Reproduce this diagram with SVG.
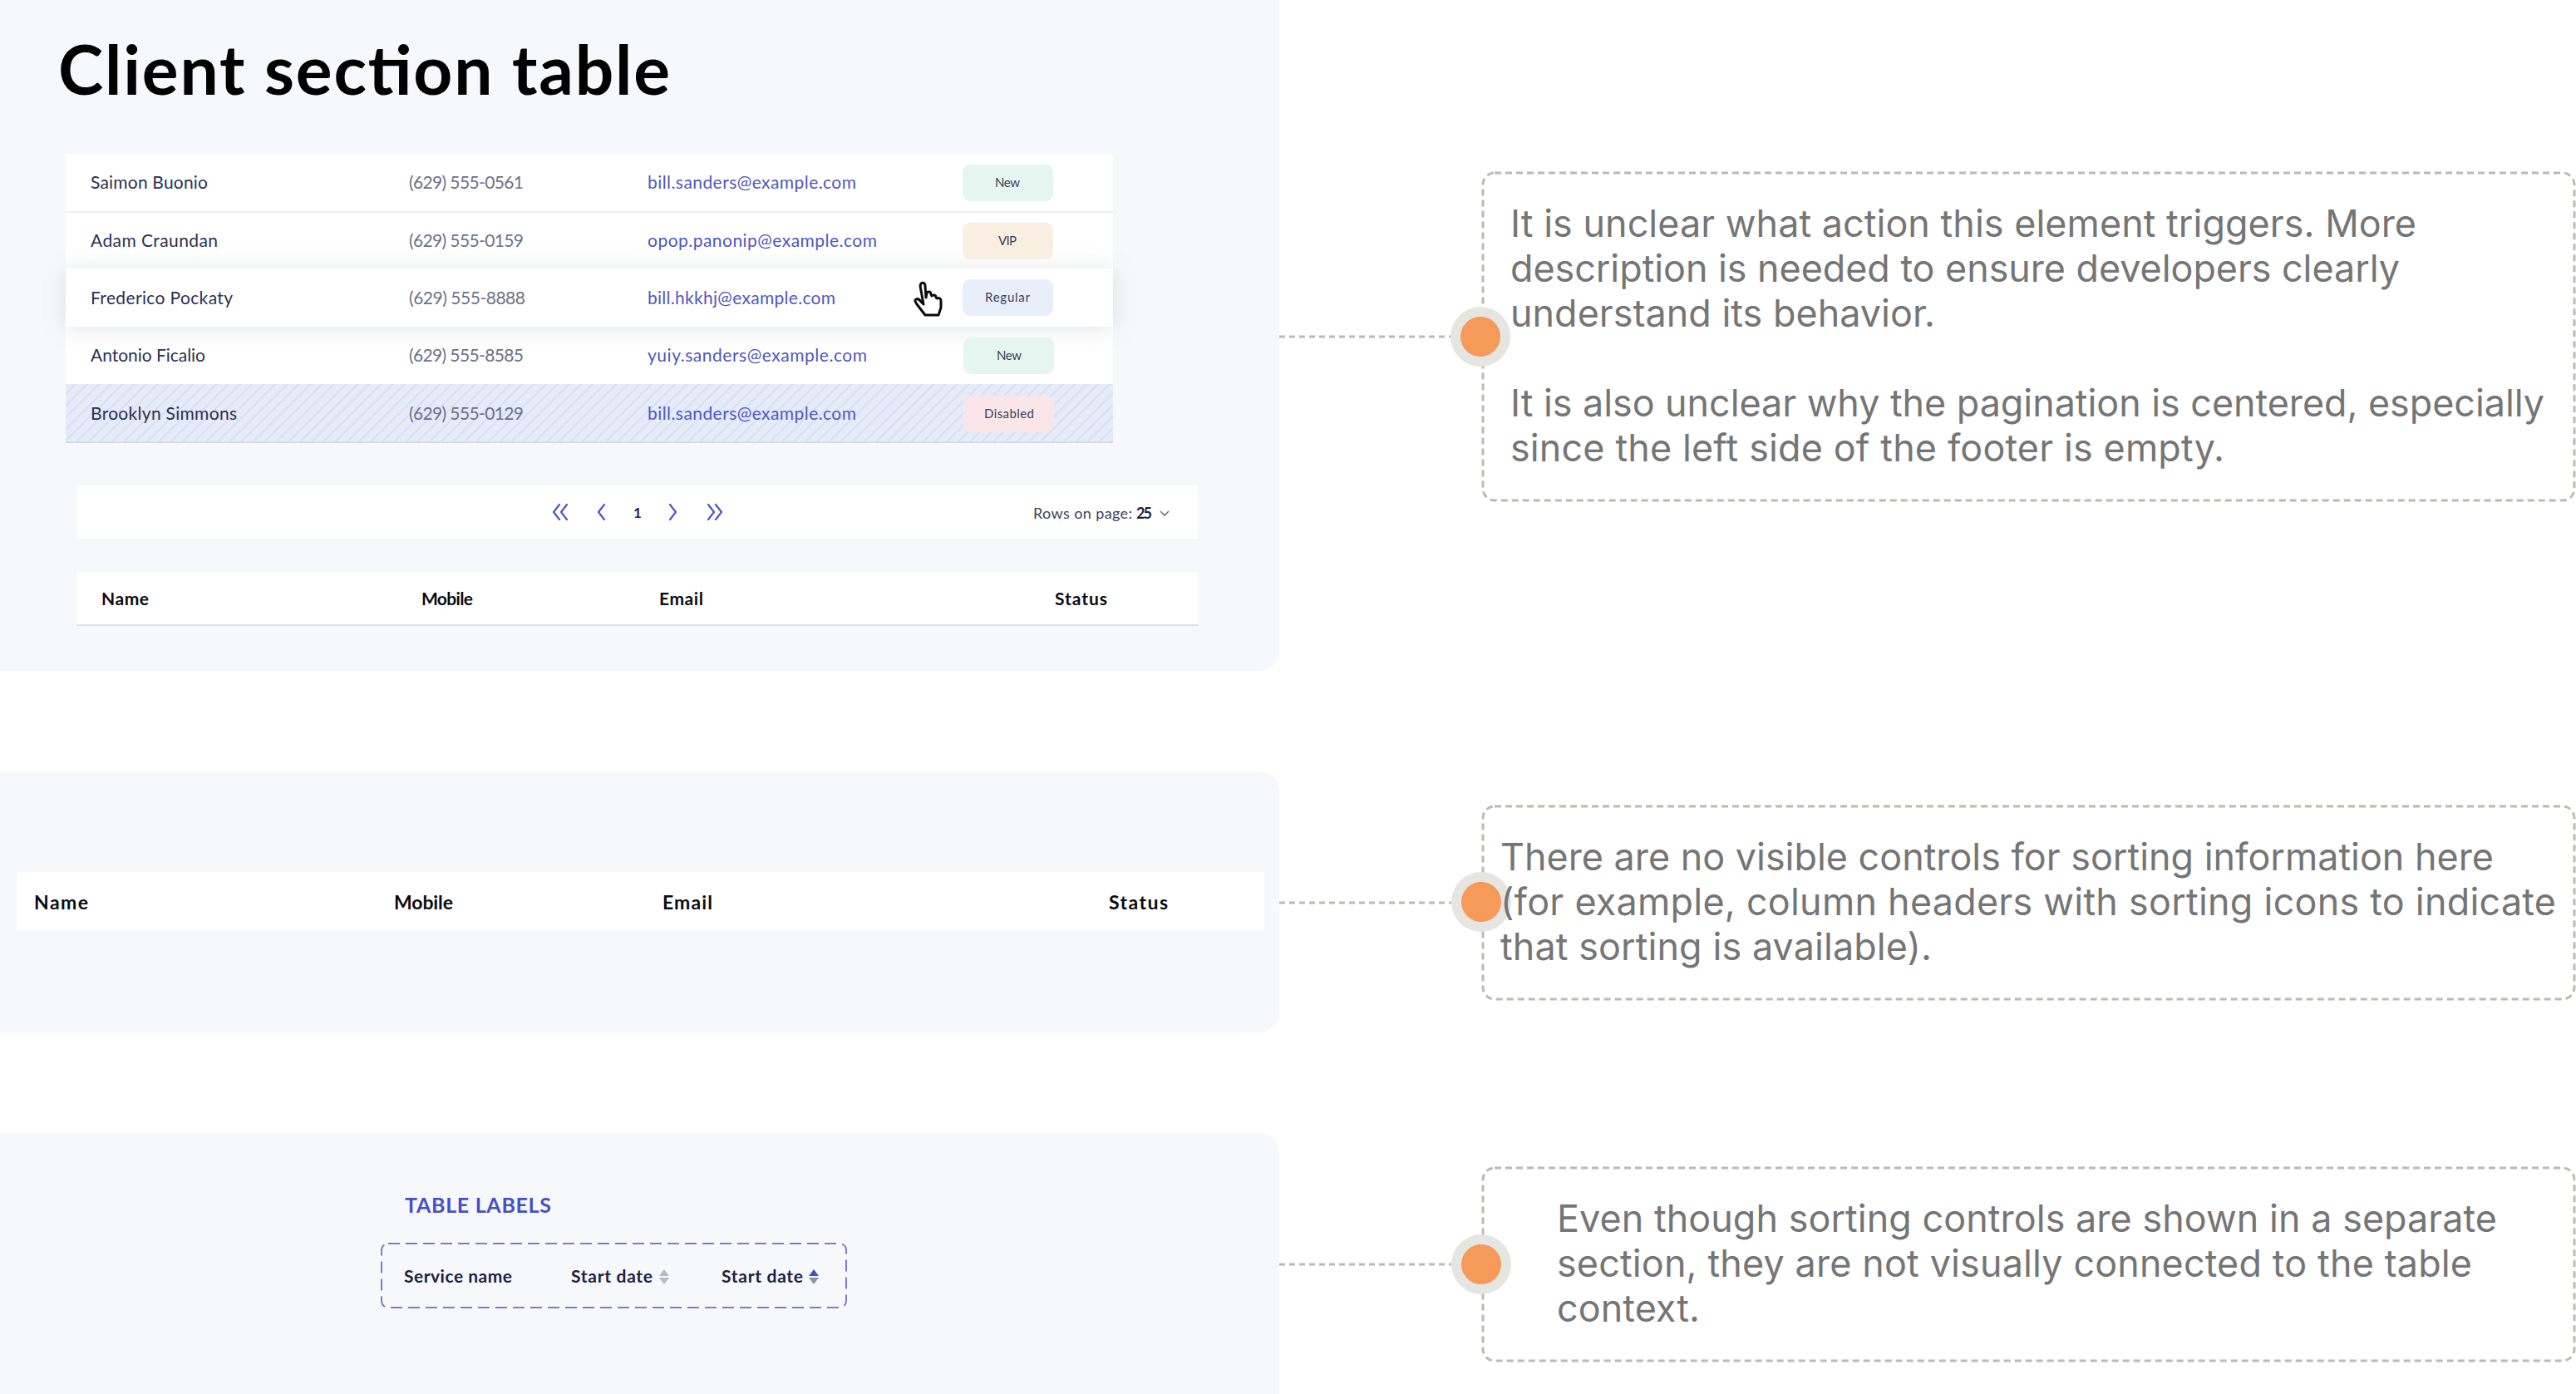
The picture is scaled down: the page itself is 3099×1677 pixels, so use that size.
<svg xmlns="http://www.w3.org/2000/svg" width="3099" height="1677" viewBox="0 0 3099 1677">
<style>
text{font-family:"Lato","Noto Sans",sans-serif}
.panel{fill:#f6f8fc}
.row{fill:#fff}
.sep{stroke:#eef0f4;stroke-width:2}
.name{font-size:21px;fill:#2b3052}
.phone{font-size:21px;fill:#6c7189}
.email{font-size:21px;fill:#4f57c2}
.badge{font-size:15px;fill:#3a3f5a;text-anchor:middle}
.hdr{font-size:21px;font-weight:700;fill:#0b0b12}
.hdr2{font-size:23px;font-weight:700;fill:#0b0b12}
.note{font-family:"Inter","Noto Sans",sans-serif;font-size:44.85px;fill:#757575}
.box{fill:none;stroke:#bdbab3;stroke-width:3;stroke-dasharray:8 5}
.conn{stroke:#bdbab3;stroke-width:3;stroke-dasharray:7 5;fill:none}
.halo{fill:#e5e5e1}
.dot{fill:#f59a58}
.ico{fill:none;stroke:#4f57c2;stroke-width:2.2;stroke-linecap:round;stroke-linejoin:round}
.lbl{font-size:21px;font-weight:700;fill:#1c2140}
</style>
<defs>
<pattern id="stripes" width="10" height="10" patternUnits="userSpaceOnUse" patternTransform="rotate(45)">
<rect width="10" height="10" fill="#e6ebf9"/>
<rect width="2" height="10" fill="#d9dff2"/>
</pattern>
<filter id="shadow" x="-5%" y="-60%" width="110%" height="220%">
<feDropShadow dx="0" dy="2" stdDeviation="14" flood-color="#7d8296" flood-opacity=".22"/>
</filter>
</defs>
<rect width="3099" height="1677" fill="#fff"/>

<g id="panel-client-table">
<rect class="panel" x="-30" y="-30" width="1569" height="837" rx="24"/>
<text x="70" y="114" font-size="82" font-weight="700" fill="#000" textLength="736" lengthAdjust="spacing">Client section table</text>
<rect class="row" x="79" y="185" width="1260" height="278"/>
<line class="sep" x1="79" x2="1339" y1="255" y2="255"/>
<rect class="row" x="79" y="323" width="1260" height="70" filter="url(#shadow)"/>
<rect x="79" y="462" width="1260" height="70" fill="url(#stripes)"/>
<line x1="79" x2="1339" y1="532" y2="532" stroke="#d6dae6" stroke-width="2"/>

<text class="name" x="109" y="227" textLength="141">Saimon Buonio</text>
<text class="name" x="109" y="297" textLength="153">Adam Craundan</text>
<text class="name" x="109" y="366" textLength="171">Frederico Pockaty</text>
<text class="name" x="109" y="435" textLength="138">Antonio Ficalio</text>
<text class="name" x="109" y="505" textLength="176">Brooklyn Simmons</text>

<text class="phone" x="492" y="227" textLength="138">(629) 555-0561</text>
<text class="phone" x="492" y="297" textLength="138">(629) 555-0159</text>
<text class="phone" x="492" y="366" textLength="140">(629) 555-8888</text>
<text class="phone" x="492" y="435" textLength="138">(629) 555-8585</text>
<text class="phone" x="492" y="505" textLength="138">(629) 555-0129</text>

<text class="email" x="779" y="227" textLength="251">bill.sanders@example.com</text>
<text class="email" x="779" y="297" textLength="276">opop.panonip@example.com</text>
<text class="email" x="779" y="366" textLength="226">bill.hkkhj@example.com</text>
<text class="email" x="779" y="435" textLength="264">yuiy.sanders@example.com</text>
<text class="email" x="779" y="505" textLength="251">bill.sanders@example.com</text>

<rect x="1158" y="198" width="109" height="44" rx="9" fill="#e5f6f1"/>
<text class="badge" x="1212" y="225" textLength="30">New</text>
<rect x="1158" y="268" width="109" height="44" rx="9" fill="#f8efe0"/>
<text class="badge" x="1212" y="295" textLength="22">VIP</text>
<rect x="1158" y="336" width="109" height="44" rx="9" fill="#e8effb"/>
<text class="badge" x="1212" y="363" textLength="54">Regular</text>
<rect x="1159" y="406" width="109" height="44" rx="9" fill="#e5f6f1"/>
<text class="badge" x="1214" y="433" textLength="30">New</text>
<rect x="1159" y="476" width="109" height="44" rx="9" fill="#fae6e8"/>
<text class="badge" x="1214" y="503" textLength="60">Disabled</text>

<path d="M1107 342c3-2 5 0 5 3l1 14 1-6c3-2 5-1 5 2l1 2c3-2 5-1 5 2l1 1c3-1 5 0 5 3v8l-3 9h-16l-10-13c-2-3-3-5-1-6 2-1 4 0 6 3l3 3-4-22z" fill="#fff" stroke="#0c0c0c" stroke-width="3" stroke-linejoin="round" transform="translate(1 -1)"/>

<rect class="row" x="92" y="584" width="1349" height="64"/>
<path class="ico" d="M673 607l-7 9 7 9M682 607l-7 9 7 9M727 607l-7 9 7 9M806 607l7 9-7 9M852 607l7 9-7 9M861 607l7 9-7 9"/>
<text x="767" y="623" font-size="17" font-weight="700" fill="#1c2140" text-anchor="middle">1</text>
<text x="1243" y="624" font-size="18" fill="#3a3f5a" textLength="119">Rows on page:</text>
<text x="1367" y="624" font-size="18" font-weight="700" fill="#1c2140" textLength="19">25</text>
<path d="M1396 615l5 5 5-5" fill="none" stroke="#6c7189" stroke-width="1.6"/>

<rect class="row" x="92" y="688" width="1349" height="64"/>
<line x1="92" x2="1441" y1="752" y2="752" stroke="#dfe2ea" stroke-width="2"/>
<text class="hdr" x="122" y="728" textLength="57">Name</text>
<text class="hdr" x="507" y="728" textLength="62">Mobile</text>
<text class="hdr" x="793" y="728" textLength="53">Email</text>
<text class="hdr" x="1269" y="728" textLength="63">Status</text>
</g>

<g id="panel-header">
<rect class="panel" x="-30" y="928" width="1569" height="314" rx="24"/>
<rect class="row" x="21" y="1049" width="1500" height="70"/>
<text class="hdr2" x="41" y="1094" textLength="65">Name</text>
<text class="hdr2" x="474" y="1094" textLength="71">Mobile</text>
<text class="hdr2" x="797" y="1094" textLength="60">Email</text>
<text class="hdr2" x="1334" y="1094" textLength="71">Status</text>
</g>

<g id="panel-labels">
<rect class="panel" x="-30" y="1363" width="1569" height="344" rx="24"/>
<text x="487" y="1459" font-size="25" font-weight="700" fill="#4550c4" textLength="176">TABLE LABELS</text>
<rect x="459" y="1496" width="559" height="77" rx="8" fill="none" stroke="#8673d6" stroke-width="2" stroke-dasharray="14 7"/>
<text class="lbl" x="486" y="1543" textLength="130">Service name</text>
<text class="lbl" x="687" y="1543" textLength="98">Start date</text>
<path d="M799 1527l6 8h-12zM799 1545l6-8h-12z" fill="#b5b8c8"/>
<text class="lbl" x="868" y="1543" textLength="98">Start date</text>
<path d="M979 1527l6 8h-12z" fill="#4550c4"/>
<path d="M979 1545l6-8h-12z" fill="#8d90a8"/>
</g>

<g id="connectors">
<line class="conn" x1="1539" x2="1746" y1="405" y2="405"/>
<line class="conn" x1="1539" x2="1746" y1="1086" y2="1086"/>
<line class="conn" x1="1539" x2="1746" y1="1521" y2="1521"/>
</g>

<g id="note-1">
<rect class="box" x="1784" y="208" width="1313" height="394" rx="14"/>
<circle class="halo" cx="1781" cy="405" r="36"/>
<circle class="dot" cx="1781" cy="405" r="24"/>
<text class="note" x="1817" y="285" textLength="1090">It is unclear what action this element triggers. More</text>
<text class="note" x="1817" y="339" textLength="1070">description is needed to ensure developers clearly</text>
<text class="note" x="1817" y="393" textLength="511">understand its behavior.</text>
<text class="note" x="1817" y="501" textLength="1244">It is also unclear why the pagination is centered, especially</text>
<text class="note" x="1817" y="555" textLength="859">since the left side of the footer is empty.</text>
</g>

<g id="note-2">
<rect class="box" x="1784" y="970" width="1313" height="232" rx="14"/>
<circle class="halo" cx="1782" cy="1085" r="36"/>
<circle class="dot" cx="1782" cy="1085" r="24"/>
<text class="note" x="1805" y="1047" textLength="1195">There are no visible controls for sorting information here</text>
<text class="note" x="1805" y="1101" textLength="1270">(for example, column headers with sorting icons to indicate</text>
<text class="note" x="1805" y="1155" textLength="519">that sorting is available).</text>
</g>

<g id="note-3">
<rect class="box" x="1784" y="1405" width="1313" height="232" rx="14"/>
<circle class="halo" cx="1782" cy="1521" r="36"/>
<circle class="dot" cx="1782" cy="1521" r="24"/>
<text class="note" x="1873" y="1482" textLength="1131">Even though sorting controls are shown in a separate</text>
<text class="note" x="1873" y="1536" textLength="1101">section, they are not visually connected to the table</text>
<text class="note" x="1873" y="1590" textLength="172">context.</text>
</g>
</svg>
